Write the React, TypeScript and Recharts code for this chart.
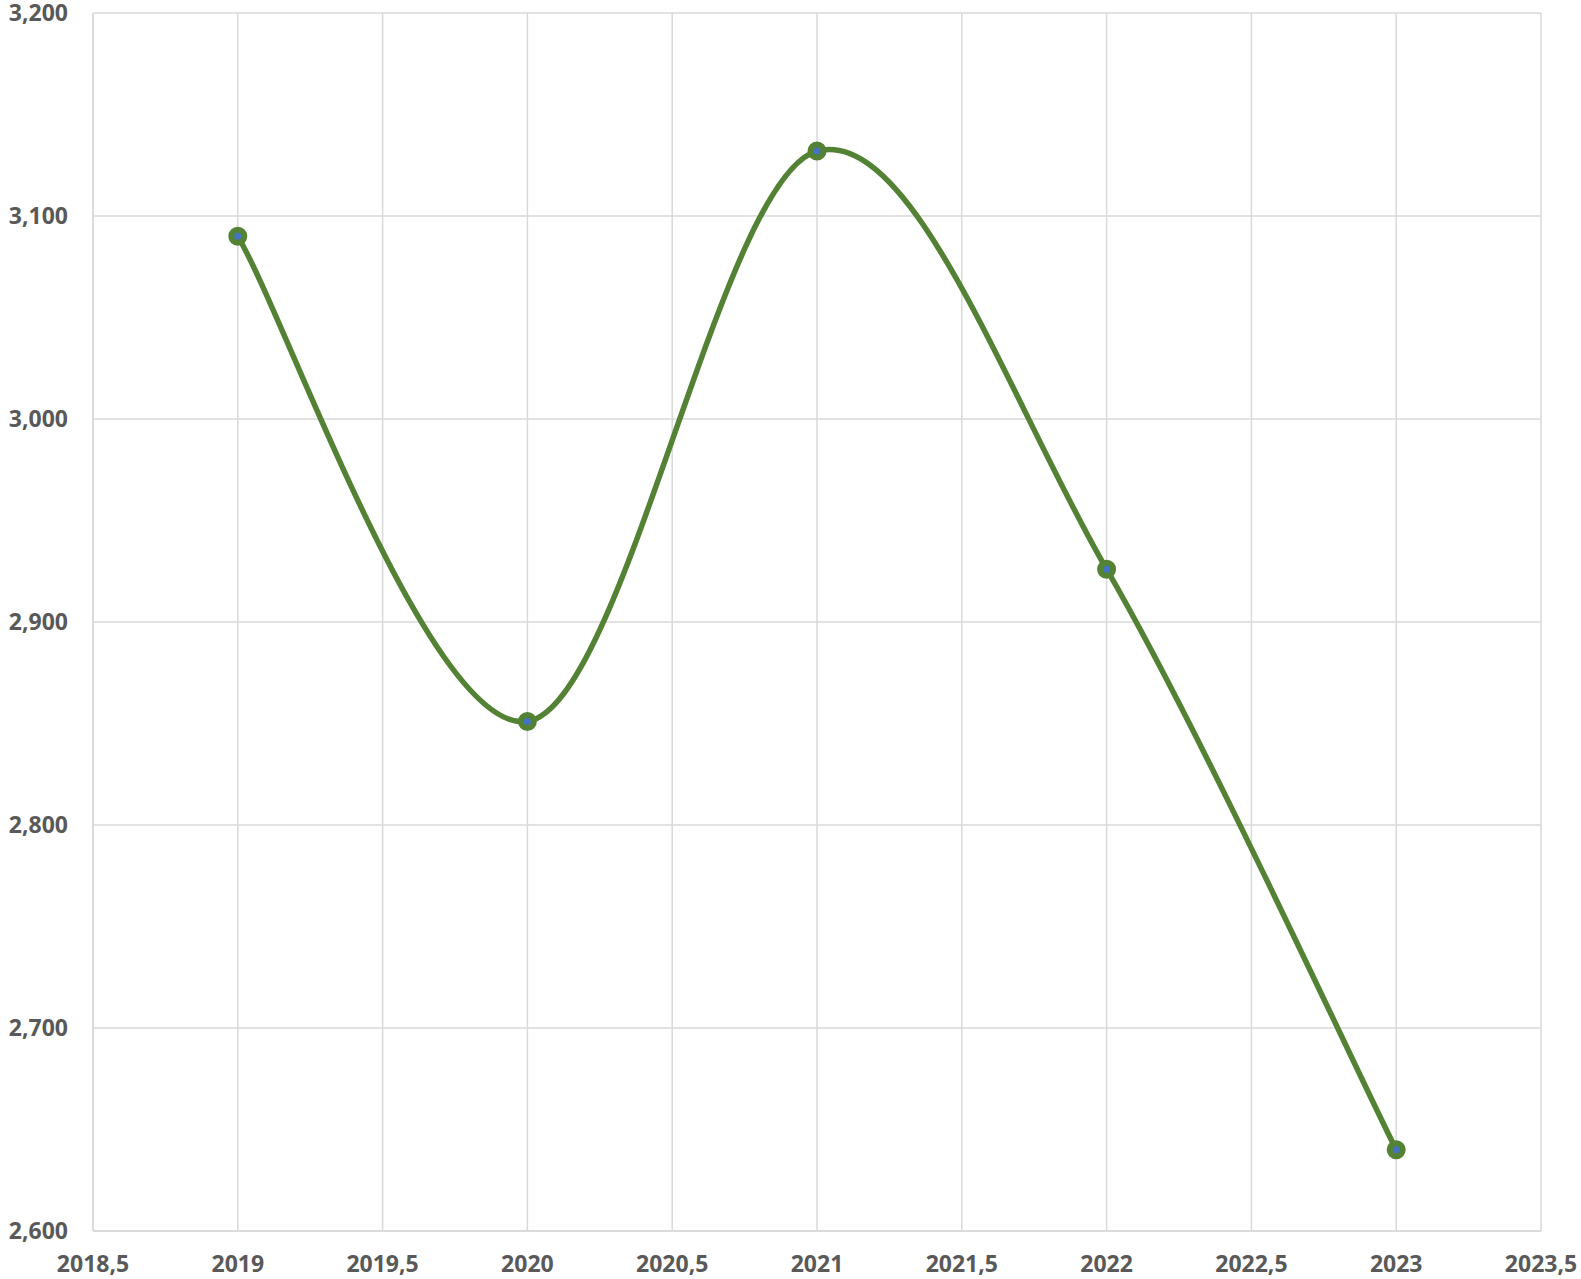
import React from "react";
import {
  LineChart,
  Line,
  XAxis,
  YAxis,
  CartesianGrid,
} from "recharts";

const years = [2019, 2020, 2021, 2022, 2023];
const values = [3090, 2851, 3132, 2926, 2640];
const xTicks = [2018.5, 2019, 2019.5, 2020, 2020.5, 2021, 2021.5, 2022, 2022.5, 2023, 2023.5];
const yTicks = [2600, 2700, 2800, 2900, 3000, 3100, 3200];

const data = years.map((year, i) => ({ year, value: values[i] }));

// Excel-style smoothed line (Catmull-Rom with 1/6 control handles)
const excelSmooth = (context: any) => {
  let pts: [number, number][] = [];
  return {
    areaStart() {},
    areaEnd() {},
    lineStart() {
      pts = [];
    },
    lineEnd() {
      const n = pts.length;
      if (!n) return;
      context.moveTo(pts[0][0], pts[0][1]);
      for (let i = 0; i < n - 1; i++) {
        const p0 = pts[Math.max(i - 1, 0)];
        const p1 = pts[i];
        const p2 = pts[i + 1];
        const p3 = pts[Math.min(i + 2, n - 1)];
        context.bezierCurveTo(
          p1[0] + (p2[0] - p0[0]) / 6,
          p1[1] + (p2[1] - p0[1]) / 6,
          p2[0] - (p3[0] - p1[0]) / 6,
          p2[1] - (p3[1] - p1[1]) / 6,
          p2[0],
          p2[1]
        );
      }
    },
    point(x: number, y: number) {
      pts.push([+x, +y]);
    },
  };
};

const tickStyle = {
  fontFamily: "'Open Sans', sans-serif",
  fontWeight: 700,
  fontSize: 23,
  fill: "#595959",
};

export default function App() {
  return (
    <div style={{ position: "absolute", left: 0, top: 0, width: 1581, height: 1279, background: "#fff" }}>
      <LineChart
        width={1581}
        height={1279}
        data={data}
        margin={{ top: 13, right: 40, left: 0, bottom: 0 }}
      >
        <CartesianGrid stroke="#d9d9d9" strokeWidth={1.5} />
        <XAxis
          dataKey="year"
          type="number"
          domain={[2018.5, 2023.5]}
          ticks={xTicks}
          interval={0}
          height={48}
          tickSize={0}
          tickMargin={25}
          axisLine={{ stroke: "#d9d9d9", strokeWidth: 1.5 }}
          tickLine={false}
          tick={tickStyle}
          tickFormatter={(v: number) => String(v).replace(".", ",")}
        />
        <YAxis
          type="number"
          domain={[2600, 3200]}
          ticks={yTicks}
          interval={0}
          width={93}
          tickSize={0}
          tickMargin={25}
          axisLine={{ stroke: "#d9d9d9", strokeWidth: 1.5 }}
          tickLine={false}
          tick={tickStyle}
          tickFormatter={(v: number) => v.toLocaleString("en-US")}
        />
        <Line
          dataKey="value"
          type={excelSmooth as any}
          stroke="#548235"
          strokeWidth={5.5}
          dot={{ r: 6.5, fill: "#4472C4", stroke: "#548235", strokeWidth: 6 }}
          isAnimationActive={false}
        />
      </LineChart>
    </div>
  );
}
